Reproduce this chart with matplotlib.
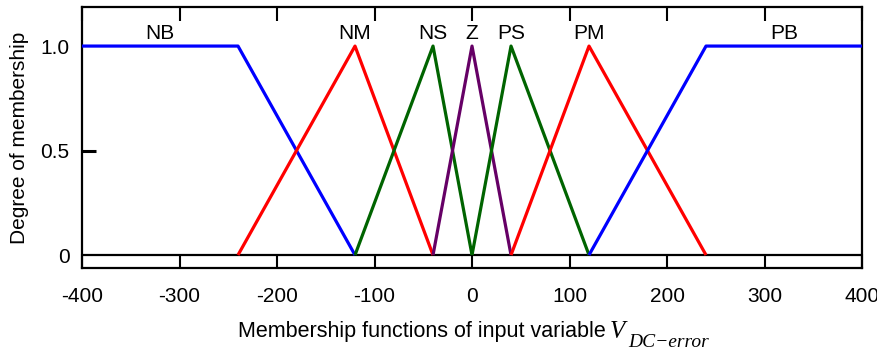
import matplotlib.pyplot as plt

# membership function breakpoints (x) and degrees (y)
nb_x = [-400, -240, -120]
nb_y = [1, 1, 0]
nm_x = [-240, -120, -40]
nm_y = [0, 1, 0]
ns_x = [-120, -40, 0]
ns_y = [0, 1, 0]
z_x = [-40, 0, 40]
z_y = [0, 1, 0]
ps_x = [0, 40, 120]
ps_y = [0, 1, 0]
pm_x = [40, 120, 240]
pm_y = [0, 1, 0]
pb_x = [120, 240, 400]
pb_y = [0, 1, 1]

set_names = ['NB', 'NM', 'NS', 'Z', 'PS', 'PM', 'PB']
label_x = [-320, -120, -40, 0, 40, 120, 320]
x_ticks = [-400, -300, -200, -100, 0, 100, 200, 300, 400]
y_ticks = [0, 0.5, 1.0]
y_tick_labels = ['0', '0.5', '1.0']

plt.rcParams['font.family'] = ['Liberation Sans', 'DejaVu Sans']
fs = 15

fig = plt.figure(figsize=(8.78, 3.53), dpi=100)
ax = fig.add_axes([0.0934, 0.2408, 0.8884, 0.7394])

series = [
    (nb_x, nb_y, 'blue'),
    (nm_x, nm_y, 'red'),
    (ns_x, ns_y, '#006400'),
    (z_x, z_y, '#660066'),
    (ps_x, ps_y, '#006400'),
    (pm_x, pm_y, 'red'),
    (pb_x, pb_y, 'blue'),
]
for xs, ys, c in series:
    ax.plot(xs, ys, color=c, lw=2.3, solid_capstyle='butt', zorder=3)

ax.axhline(0, color='black', lw=1.6, zorder=2)

for name, lx in zip(set_names, label_x):
    ax.text(lx, 1.062, name, ha='center', va='center', fontsize=fs)

ax.set_xlim(-400, 400)
ax.set_ylim(-0.062, 1.187)
ax.set_xticks(x_ticks)
ax.set_xticklabels([str(t) for t in x_ticks], fontsize=fs)
ax.set_yticks(y_ticks)
ax.set_yticklabels(y_tick_labels, fontsize=fs)
ax.tick_params(axis='x', direction='in', top=True, length=10, width=1.5, pad=14)
ax.tick_params(axis='y', direction='in', length=10, width=2.2, pad=9)
# only the 0.5 mark shows on the left axis
yt = ax.yaxis.get_major_ticks()
yt[0].tick1line.set_visible(False)
yt[2].tick1line.set_visible(False)
for sp in ax.spines.values():
    sp.set_linewidth(1.6)

ax.set_ylabel('Degree of membership', fontsize=fs, labelpad=8)

# x label: sans text followed by serif italic symbol
fig.text(606 / 878, 1 - 337 / 353, 'Membership functions of input variable',
         ha='right', va='baseline', fontsize=15.5)
fig.text(610 / 878, 1 - 338 / 353, 'V', ha='left', va='baseline',
         fontsize=18, family='Liberation Serif', style='italic')
fig.text(628 / 878, 1 - 347 / 353, 'DC\u2212error', ha='left', va='baseline',
         fontsize=14, family='Liberation Serif', style='italic')

fig.savefig('out.png', dpi=100)
